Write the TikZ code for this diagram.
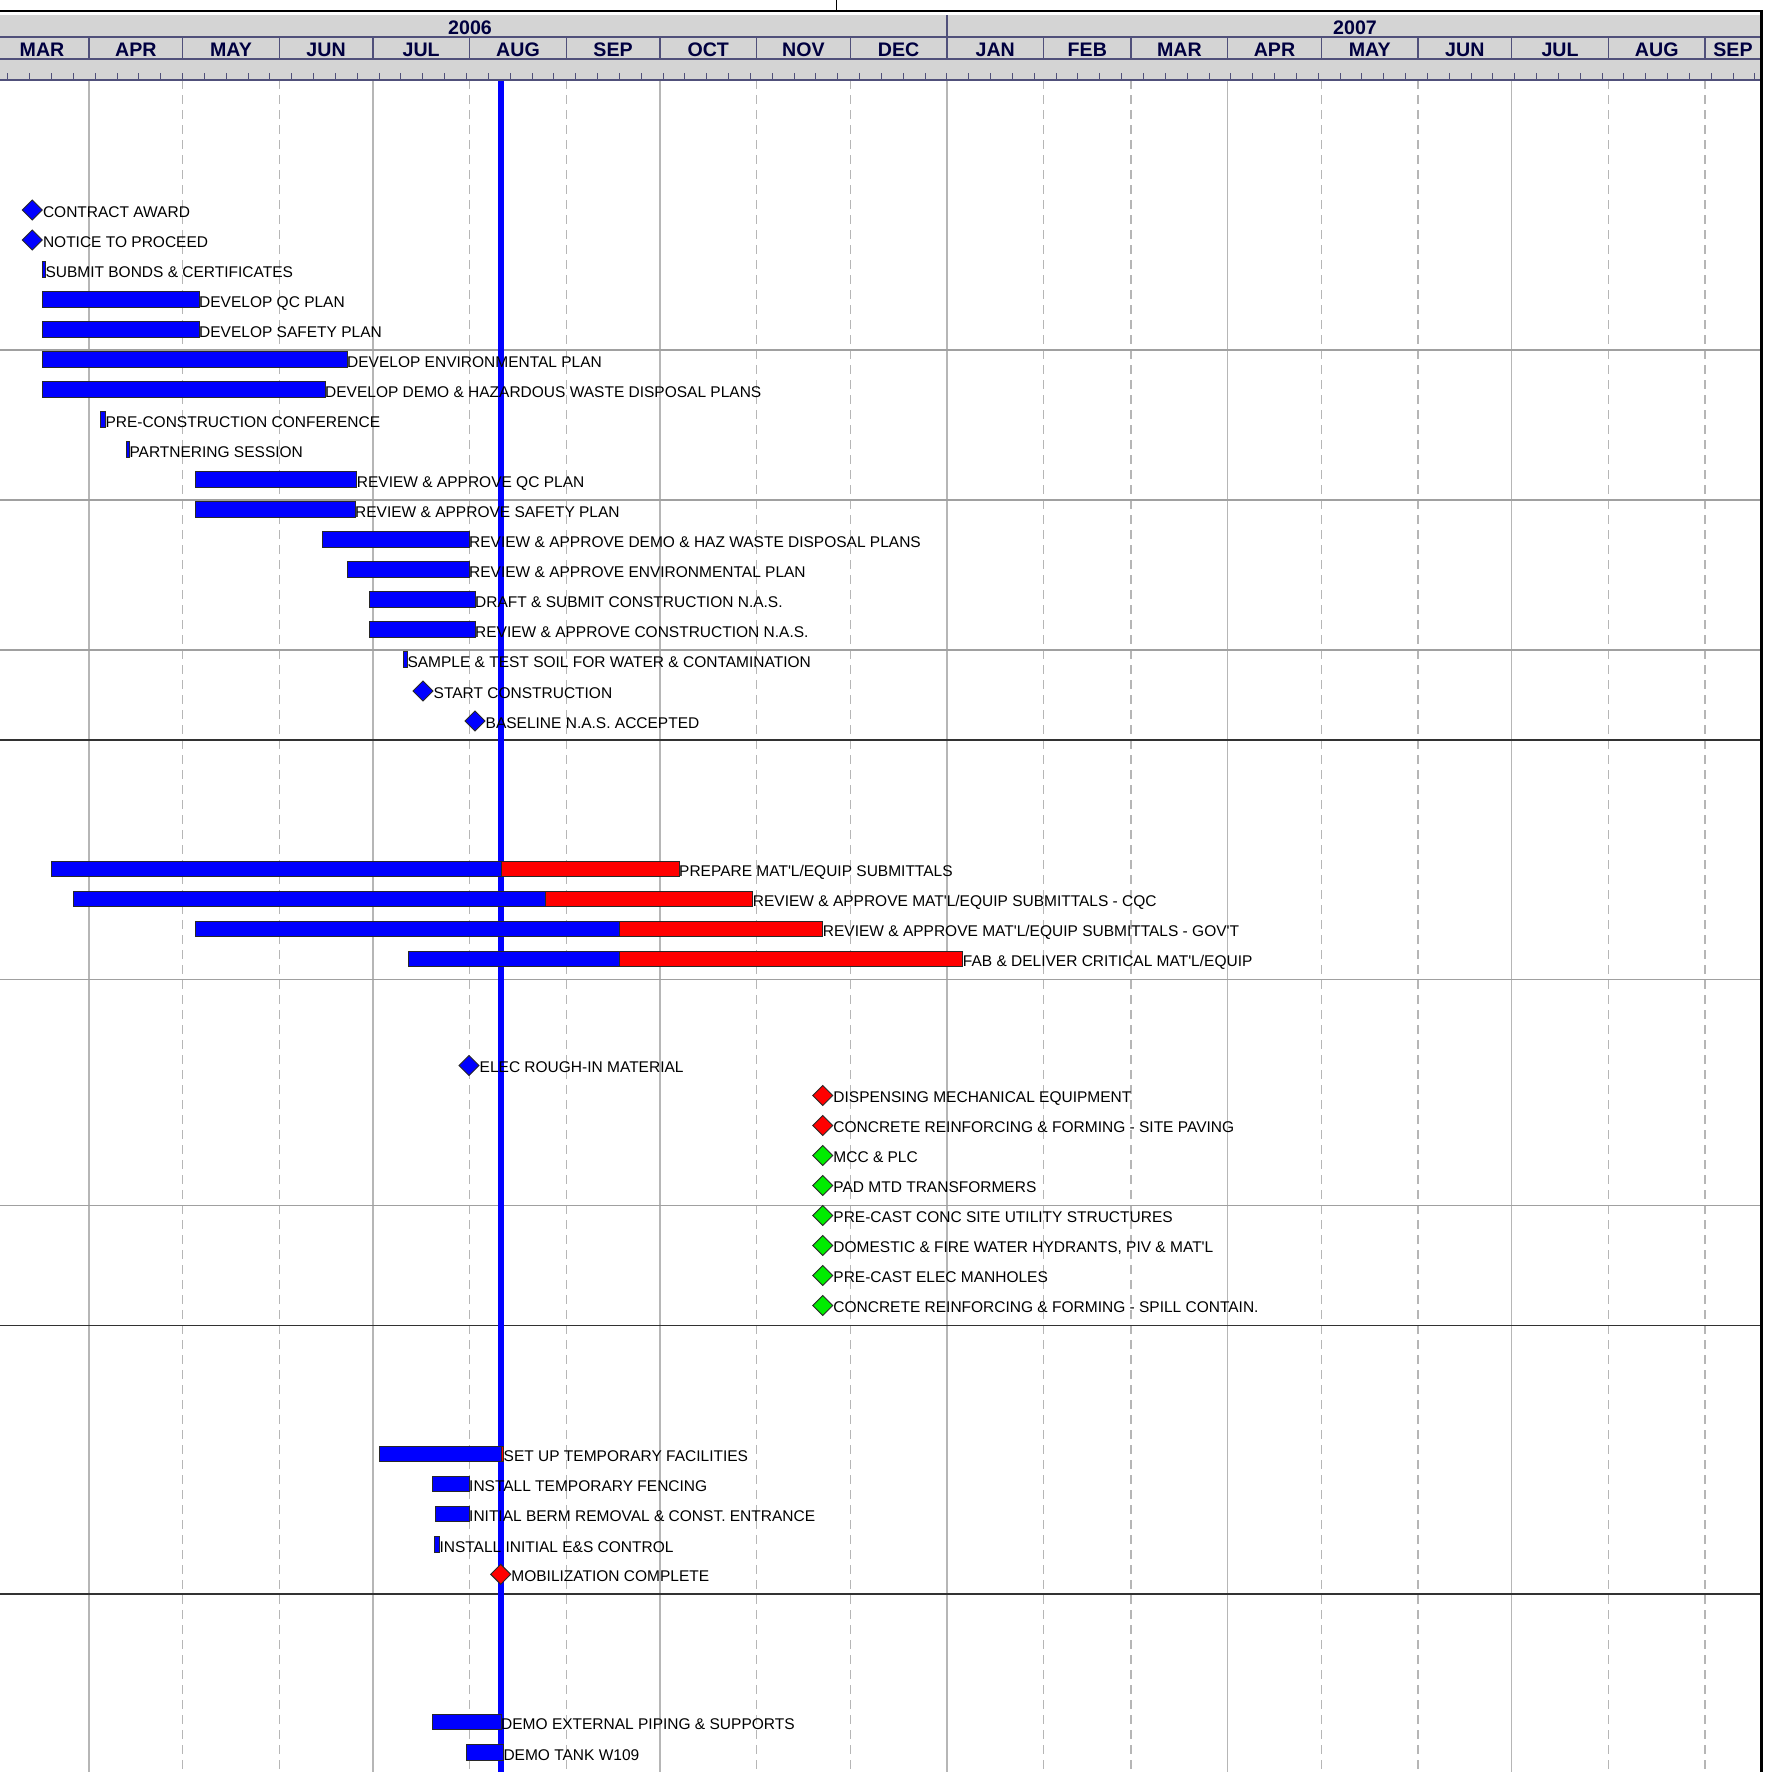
\documentclass[tikz,border=0pt]{standalone}
\usepackage{fontspec}
\newfontfamily\lbfont{Liberation Sans}
\definecolor{hdrgrey}{RGB}{212,212,212}
\definecolor{hdrline}{RGB}{80,80,122}
\definecolor{hdrtext}{RGB}{0,0,64}
\definecolor{gridc}{RGB}{182,182,182}
\definecolor{sepgrey}{RGB}{160,160,160}
\definecolor{sepdark}{RGB}{50,50,50}
\definecolor{barblue}{RGB}{0,0,255}
\definecolor{barred}{RGB}{255,0,0}
\definecolor{mgreen}{RGB}{0,235,0}
\definecolor{outl}{RGB}{40,40,40}
\tikzset{
  gridsolid/.style={draw=gridc, line width=1.3pt},
  griddash/.style={draw=gridc, line width=1.3pt, dash pattern=on 9pt off 6pt},
  sepg/.style={draw=sepgrey, line width=1.3pt},
  sepd/.style={draw=sepdark, line width=1.3pt},
  hline/.style={draw=hdrline, line width=1.3pt},
  hticks/.style={draw=hdrline, line width=1pt},
  blbar/.style={fill=barblue, draw=outl, line width=0.9pt},
  rdbar/.style={fill=barred, draw=outl, line width=0.9pt},
  mile/.style={draw=outl, line width=0.9pt},
  todayline/.style={draw=barblue, line width=6.3pt},
  lab/.style={font=\lbfont\fontsize{15.5}{18}\selectfont, anchor=base west, inner sep=0pt, text=black},
  mon/.style={font=\lbfont\bfseries\fontsize{19.6}{22}\selectfont, text=hdrtext, inner sep=0pt, anchor=center}
}
\newcommand\gTask[5]{%
  \path[blbar] (#2,#4-7.8) rectangle (#3,#4+7.8);
  \node[lab] (#1) at (#3,#4+7.8) {#5};}
\newcommand\gCrit[6]{%
  \path[blbar] (#2,#5-7.8) rectangle (#3,#5+7.8);
  \path[rdbar] (#3,#5-7.8) rectangle (#4,#5+7.8);
  \node[lab] (#1) at (#4,#5+7.8) {#6};}
\newcommand\gMile[5]{%
  \path[mile, fill=#2] (#3-10,#4) -- (#3,#4-10) -- (#3+10,#4) -- (#3,#4+10) -- cycle;
  \node[lab] (#1) at (#3+10.5,#4+7) {#5};}
\begin{document}
\begin{tikzpicture}[x=1pt,y=-1pt]
\useasboundingbox (0,0) rectangle (1776,1772);
\fill[white] (0,0) rectangle (1776,1772);
% body grid
\foreach \x in {89,372.9,659.9,946.9,1227.7,1511.6}
  \draw[gridsolid] (\x,80) -- (\x,1772);
\foreach \x in {182.6,279.3,469.6,566.3,756.6,850.2,1043.6,1131,1321.3,1418,1608.3,1705}
  \draw[griddash] (\x,80) -- (\x,1772);
% separators
\foreach \y in {350,500,650,979.5,1205.5}
  \draw[sepg] (0,\y) -- (1761,\y);
\foreach \y in {740,1325.5,1594}
  \draw[sepd] (0,\y) -- (1761,\y);
% today line
\draw[todayline] (500.7,80) -- (500.7,1772);
% block A
\gMile{a0}{barblue}{32.3}{210}{CONTRACT AWARD}
\gMile{a1}{barblue}{32.3}{240}{NOTICE TO PROCEED}
\gTask{a2}{42.7}{45.3}{269.5}{SUBMIT BONDS \& CERTIFICATES}
\gTask{a3}{42.7}{199}{299.5}{DEVELOP QC PLAN}
\gTask{a4}{42.7}{199}{329.5}{DEVELOP SAFETY PLAN}
\gTask{a5}{42.7}{347}{359.5}{DEVELOP ENVIRONMENTAL PLAN}
\gTask{a6}{42.7}{325}{389.5}{DEVELOP DEMO \& HAZARDOUS WASTE DISPOSAL PLANS}
\gTask{a7}{100.7}{105.3}{419.5}{PRE-CONSTRUCTION CONFERENCE}
\gTask{a8}{126.7}{129.3}{449.5}{PARTNERING SESSION}
\gTask{a9}{195}{356.7}{479.5}{REVIEW \& APPROVE QC PLAN}
\gTask{a10}{195}{355}{509.5}{REVIEW \& APPROVE SAFETY PLAN}
\gTask{a11}{322.7}{469}{539.5}{REVIEW \& APPROVE DEMO \& HAZ WASTE DISPOSAL PLANS}
\gTask{a12}{347}{469}{569.5}{REVIEW \& APPROVE ENVIRONMENTAL PLAN}
\gTask{a13}{369}{475}{599.5}{DRAFT \& SUBMIT CONSTRUCTION N.A.S.}
\gTask{a14}{369}{475}{629.5}{REVIEW \& APPROVE CONSTRUCTION N.A.S.}
\gTask{a15}{403}{407.3}{659.5}{SAMPLE \& TEST SOIL FOR WATER \& CONTAMINATION}
\gMile{a16}{barblue}{423}{691}{START CONSTRUCTION}
\gMile{a17}{barblue}{475}{721}{BASELINE N.A.S. ACCEPTED}
% block B
\gCrit{b0}{51}{501}{679}{869}{PREPARE MAT'L/EQUIP SUBMITTALS}
\gCrit{b1}{73}{545}{752.7}{899}{REVIEW \& APPROVE MAT'L/EQUIP SUBMITTALS - CQC}
\gCrit{b2}{195.5}{619}{822.7}{929}{REVIEW \& APPROVE MAT'L/EQUIP SUBMITTALS - GOV'T}
\gCrit{b3}{408.7}{619}{962.7}{959}{FAB \& DELIVER CRITICAL MAT'L/EQUIP}
% block C
\gMile{c0}{barblue}{469}{1065.5}{ELEC ROUGH-IN MATERIAL}
\gMile{c1}{barred}{822.7}{1095.5}{DISPENSING MECHANICAL EQUIPMENT}
\gMile{c2}{barred}{822.7}{1125.5}{CONCRETE REINFORCING \& FORMING - SITE PAVING}
\gMile{c3}{mgreen}{822.7}{1155.5}{MCC \& PLC}
\gMile{c4}{mgreen}{822.7}{1185.5}{PAD MTD TRANSFORMERS}
\gMile{c5}{mgreen}{822.7}{1215.5}{PRE-CAST CONC SITE UTILITY STRUCTURES}
\gMile{c6}{mgreen}{822.7}{1245.5}{DOMESTIC \& FIRE WATER HYDRANTS, PIV \& MAT'L}
\gMile{c7}{mgreen}{822.7}{1275.5}{PRE-CAST ELEC MANHOLES}
\gMile{c8}{mgreen}{822.7}{1305.5}{CONCRETE REINFORCING \& FORMING - SPILL CONTAIN.}
% block D
\gCrit{d0}{379}{501}{503.5}{1454}{SET UP TEMPORARY FACILITIES}
\gTask{d1}{432.7}{469}{1484}{INSTALL TEMPORARY FENCING}
\gTask{d2}{435}{469}{1514}{INITIAL BERM REMOVAL \& CONST. ENTRANCE}
\gTask{d3}{434.7}{439.3}{1544.5}{INSTALL INITIAL E\&S CONTROL}
\gMile{d4}{barred}{500.7}{1574.3}{MOBILIZATION COMPLETE}
% block E
\gTask{e0}{432.7}{501}{1722}{DEMO EXTERNAL PIPING \& SUPPORTS}
\gTask{e1}{466.7}{503.3}{1752.3}{DEMO TANK W109}
% header
\fill[white] (0,0) rectangle (1776,80);
\fill[hdrgrey] (0,15) rectangle (1761,80);
\draw[black, line width=2.3pt] (0,11.2) -- (1762,11.2);
\draw[black, line width=1pt] (836.7,0) -- (836.7,11);
\draw[hline] (0,37) -- (1761,37);
\draw[hline] (0,59) -- (1761,59);
\draw[hline] (0,80) -- (1761,80);
\draw[hline] (946.9,15) -- (946.9,37);
\foreach \x in {89,182.6,279.3,372.9,469.6,566.3,659.9,756.6,850.2,946.9,1043.6,1131,1227.7,1321.3,1418,1511.6,1608.3,1705}
  \draw[hline] (\x,37) -- (\x,59);
\foreach \k in {0,...,80}
  \draw[hticks] ({7.9+21.838*\k},73) -- ({7.9+21.838*\k},80);
\node[mon] (y2006) at (470,27.5) {2006};
\node[mon] (y2007) at (1355,27.5) {2007};
\foreach \x/\m [count=\i] in {42/MAR,135.8/APR,231/MAY,326.1/JUN,421.2/JUL,518/AUG,613.1/SEP,708.2/OCT,803.4/NOV,898.6/DEC,995.2/JAN,1087.3/FEB,1179.4/MAR,1274.5/APR,1369.7/MAY,1464.8/JUN,1560/JUL,1656.7/AUG,1733/SEP}
  \node[mon] (m\i) at (\x,49.7) {\m};
% right border
\draw[black, line width=2.7pt] (1761.5,10) -- (1761.5,1772);
\end{tikzpicture}
\end{document}
